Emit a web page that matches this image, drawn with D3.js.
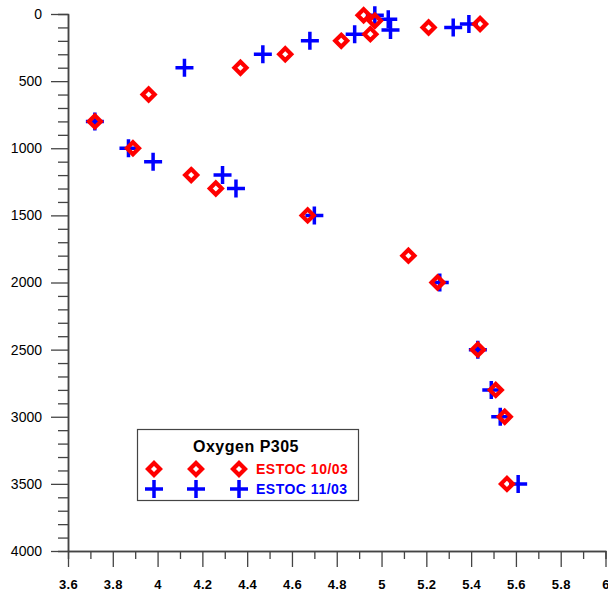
<!DOCTYPE html>
<html>
<head>
<meta charset="utf-8">
<script src="https://cdn.jsdelivr.net/npm/d3@7"></script>
<style>
  body { margin: 0; background: #fff; }
  svg { display: block; font-family: Arial, "Liberation Sans", sans-serif; }
</style>
</head>
<body>
<div id="chart-area"></div>
<script>
// SVG Size
var width = 608,
    height = 599;

// ESTOC 10/03 (red diamonds)
var oct03Oxygen = [4.92, 4.97, 5.44, 5.21, 4.95, 4.82, 4.57, 4.37, 3.96, 3.72, 3.89, 4.15, 4.26, 4.67, 5.12, 5.25, 5.43, 5.51, 5.55, 5.56];
var oct03Depth  = [10, 50, 75, 100, 150, 200, 300, 400, 600, 800, 1000, 1200, 1300, 1500, 1800, 2000, 2500, 2800, 3000, 3500];

// ESTOC 11/03 (blue crosses)
var nov03Oxygen = [4.97, 5.03, 5.39, 5.32, 5.04, 4.88, 4.68, 4.47, 4.12, 3.72, 3.87, 3.98, 4.29, 4.35, 4.70, 5.26, 5.43, 5.49, 5.53, 5.61];
var nov03Depth  = [10, 40, 75, 100, 120, 150, 200, 300, 400, 800, 1000, 1100, 1200, 1300, 1500, 2000, 2500, 2800, 3000, 3500];

var xTicks = [3.6, 3.8, 4, 4.2, 4.4, 4.6, 4.8, 5, 5.2, 5.4, 5.6, 5.8, 6];
var yTicks = [0, 500, 1000, 1500, 2000, 2500, 3000, 3500, 4000];

var legendTitle = "Oxygen P305";
var seriesNames = ["ESTOC 10/03", "ESTOC 11/03"];

var red = "#ff0000",
    blue = "#0000ff",
    axisColor = "#444";

var plotLeft = 68, plotRight = 605.5, plotTop = 14, plotBottom = 551;

var svg = d3.select("#chart-area").append("svg")
    .attr("width", width)
    .attr("height", height);

var xScale = d3.scaleLinear()
    .domain([3.6, 6])
    .range([plotLeft, plotRight]);

var yScale = d3.scaleLinear()
    .domain([0, 4000])
    .range([plotTop, plotBottom]);

// minor ticks first, then the labelled axis on top
var xMinor = d3.axisBottom(xScale)
    .tickValues(d3.range(3.7, 6, 0.2))
    .tickSize(8)
    .tickFormat("");

svg.append("g")
    .attr("class", "axis x-minor")
    .attr("transform", "translate(0," + plotBottom + ")")
    .call(xMinor);

var xAxis = d3.axisBottom(xScale)
    .tickValues(xTicks)
    .tickSize(16)
    .tickSizeOuter(0)
    .tickPadding(13)
    .tickFormat(function(d){ return d3.format("~g")(d); });

svg.append("g")
    .attr("class", "axis x-axis")
    .attr("transform", "translate(0," + plotBottom + ")")
    .call(xAxis);

var yMinor = d3.axisLeft(yScale)
    .tickValues(d3.range(100, 4000, 100).filter(function(d){ return d % 500 != 0; }))
    .tickSize(10)
    .tickFormat("");

svg.append("g")
    .attr("class", "axis y-minor")
    .attr("transform", "translate(" + plotLeft + ",0)")
    .call(yMinor);

var yAxis = d3.axisLeft(yScale)
    .tickValues(yTicks)
    .tickSize(17)
    .tickSizeOuter(0)
    .tickPadding(9)
    .tickFormat(d3.format("d"));

svg.append("g")
    .attr("class", "axis y-axis")
    .attr("transform", "translate(" + plotLeft + ",0)")
    .call(yAxis);

svg.selectAll(".axis path.domain").attr("stroke", axisColor).attr("stroke-width", 1.5);
svg.selectAll(".axis line").attr("stroke", axisColor).attr("stroke-width", 1.3);

svg.selectAll(".x-axis text")
    .style("font-size", "13px")
    .style("font-weight", "bold")
    .style("letter-spacing", "0.3px")
    .style("font-family", "Arial, 'Liberation Sans', sans-serif")
    .attr("fill", "#000");

svg.selectAll(".y-axis text")
    .style("font-size", "14px")
    .style("font-family", "Arial, 'Liberation Sans', sans-serif")
    .attr("fill", "#000");

// marker shapes
function diamond(r){
    return "M0," + (-r) + "L" + r + ",0L0," + r + "L" + (-r) + ",0Z";
}
function cross(r){
    return "M" + (-r) + ",0H" + r + "M0," + (-r) + "V" + r;
}

var nov03 = nov03Oxygen.map(function(v, i){ return { x: v, y: nov03Depth[i] }; });
var oct03 = oct03Oxygen.map(function(v, i){ return { x: v, y: oct03Depth[i] }; });

svg.append("g").selectAll("path")
    .data(nov03)
    .enter()
    .append("path")
    .attr("d", cross(9))
    .attr("fill", "none")
    .attr("stroke", blue)
    .attr("stroke-width", 3.5)
    .attr("transform", function(d){ return "translate(" + xScale(d.x) + "," + yScale(d.y) + ")"; });

svg.append("g").selectAll("path")
    .data(oct03)
    .enter()
    .append("path")
    .attr("d", diamond(6))
    .attr("fill", "none")
    .attr("stroke", red)
    .attr("stroke-width", 4.2)
    .attr("stroke-linejoin", "miter")
    .attr("transform", function(d){ return "translate(" + xScale(d.x) + "," + yScale(d.y) + ")"; });

// legend
var legend = svg.append("g").attr("class", "legend");

legend.append("rect")
    .attr("x", 137.5)
    .attr("y", 429.5)
    .attr("width", 221)
    .attr("height", 71)
    .attr("fill", "#fff")
    .attr("stroke", "#444")
    .attr("stroke-width", 1.2);

legend.append("text")
    .attr("x", 246)
    .attr("y", 452)
    .attr("text-anchor", "middle")
    .attr("font-size", 16)
    .attr("font-weight", "bold")
    .attr("letter-spacing", 0.5)
    .text(legendTitle);

var legendX = [154, 196, 239];
var rowY = [469, 489];

legend.selectAll(".lg-diamond")
    .data(legendX)
    .enter()
    .append("path")
    .attr("class", "lg-diamond")
    .attr("d", diamond(6))
    .attr("fill", "none")
    .attr("stroke", red)
    .attr("stroke-width", 4.2)
    .attr("transform", function(d){ return "translate(" + d + "," + rowY[0] + ")"; });

legend.selectAll(".lg-cross")
    .data(legendX)
    .enter()
    .append("path")
    .attr("class", "lg-cross")
    .attr("d", cross(9))
    .attr("fill", "none")
    .attr("stroke", blue)
    .attr("stroke-width", 3.5)
    .attr("transform", function(d){ return "translate(" + d + "," + rowY[1] + ")"; });

legend.selectAll(".lg-label")
    .data(seriesNames)
    .enter()
    .append("text")
    .attr("class", "lg-label")
    .attr("x", 256)
    .attr("y", function(d, i){ return rowY[i] + 5; })
    .attr("font-size", 14)
    .attr("font-weight", "bold")
    .attr("letter-spacing", 0.5)
    .attr("fill", function(d, i){ return i == 0 ? red : blue; })
    .text(function(d){ return d; });
</script>
</body>
</html>
